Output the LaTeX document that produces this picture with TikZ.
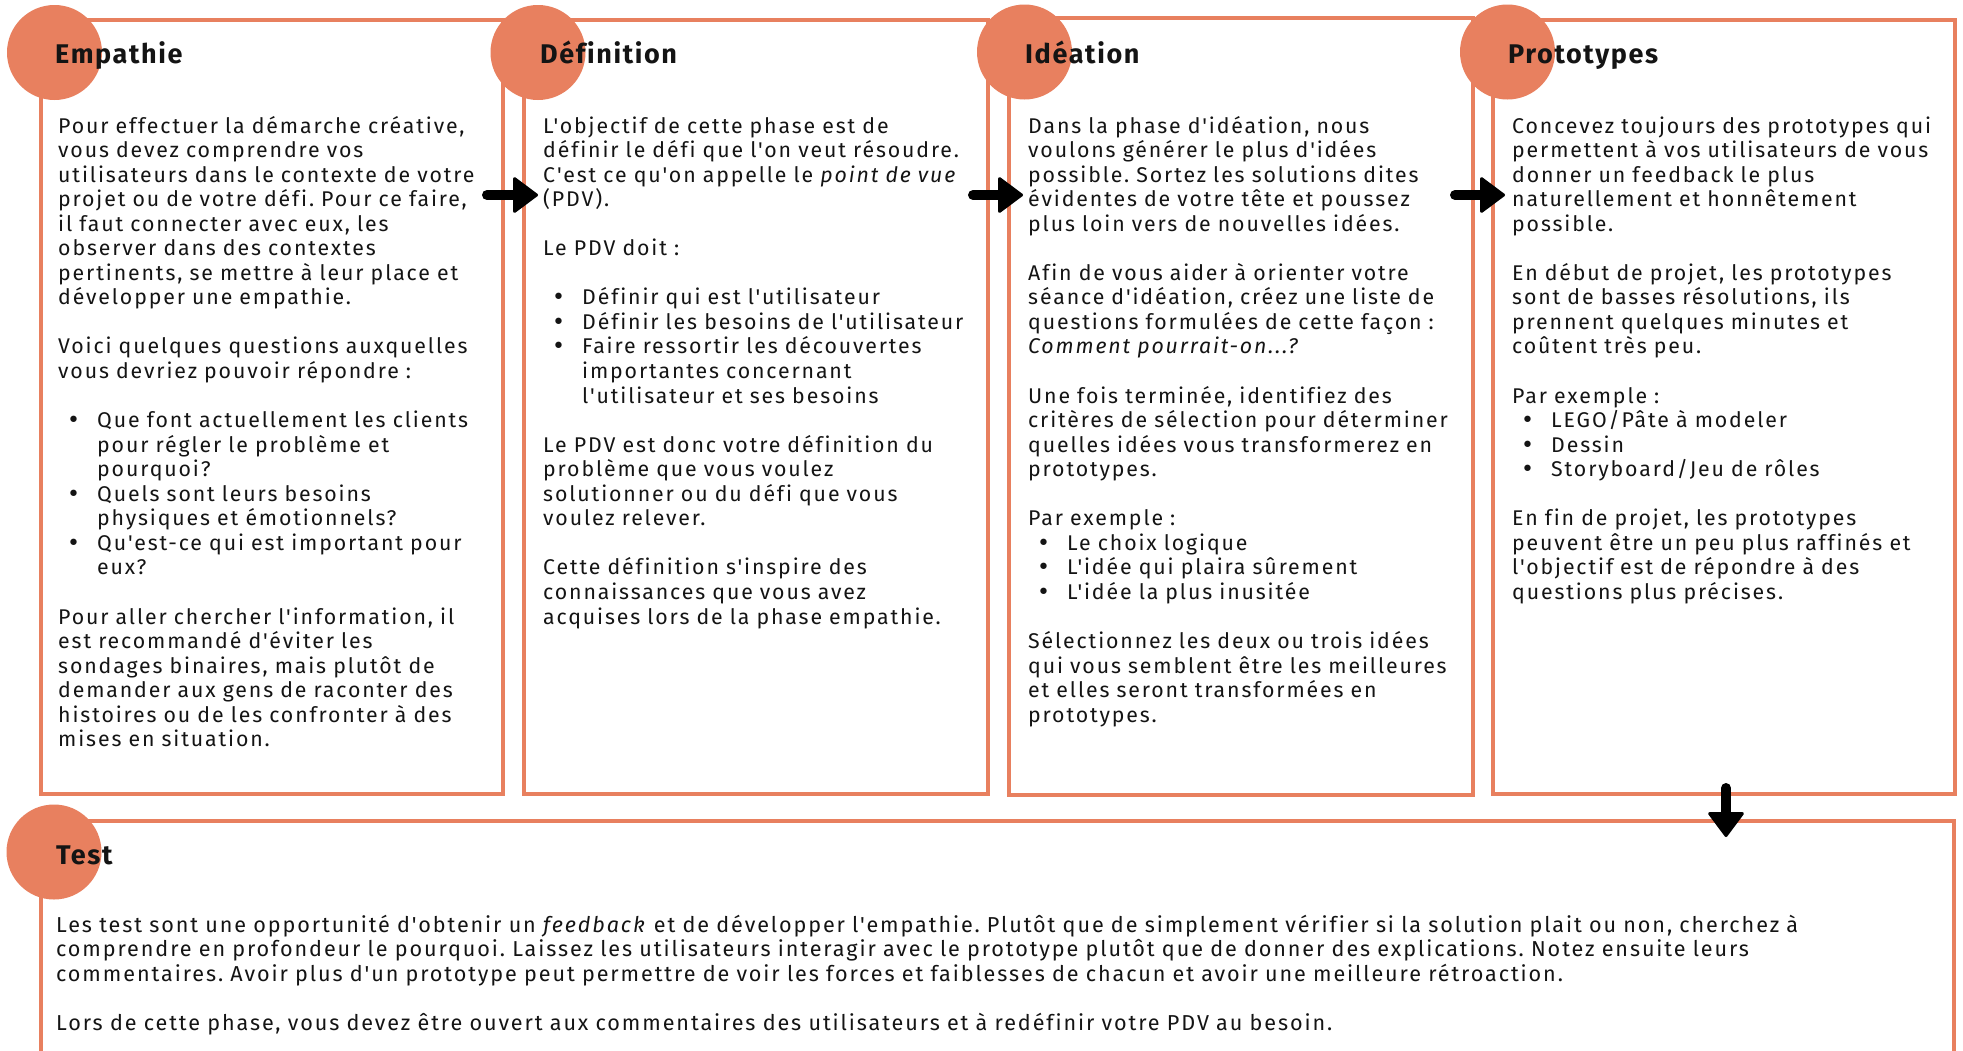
\documentclass[tikz,border=0pt]{standalone}
\usepackage{fontspec}
\setmainfont{Fira Sans}[LetterSpace=8.8,Ligatures={TeXOff,CommonOff}]
\newfontfamily\titlefont{Fira Sans}[LetterSpace=6,Ligatures={TeXOff,CommonOff}]
\newfontfamily\dejavu{DejaVu Sans}
\usetikzlibrary{arrows.meta}
\definecolor{orng}{HTML}{E8805F}
\definecolor{ink}{HTML}{141414}
\newcommand\bul{\makebox[39pt][l]{\hspace*{9pt}{\dejavu\fontsize{22}{0}\selectfont •}}}
\newcommand\ind{\hspace*{39pt}}
\newcommand\bl{24.55pt}
\frenchspacing
\begin{document}
\begin{tikzpicture}[x=1pt,y=-1pt,
  panel/.style={draw=orng,line width=4pt,rectangle,inner sep=0pt},
  circ/.style={circle,fill=orng,draw=none,minimum size=95pt,inner sep=0pt},
  ttl/.style={anchor=base west,inner sep=0pt,text=ink,font=\titlefont\bfseries\fontsize{27}{30}\selectfont},
  body/.style={anchor=base west,inner sep=0pt,text=ink,align=left,text width=#1,font=\frenchspacing\fontsize{21.3}{24.55}\selectfont},
  tbody/.style={anchor=base west,inner sep=0pt,text=ink,align=left,text width=#1,font=\frenchspacing\fontsize{21.6}{24.55}\selectfont},
  arr/.style={draw=black,line width=10pt,line cap=round,-{Triangle[length=26pt,width=38pt,round,line width=3pt]}}]
\useasboundingbox (0,0) rectangle (1963,1050);
\fill[white] (0,0) rectangle (1963,1050);
% panels
\node[panel,minimum width=462pt,minimum height=774pt] (b1) at (272,407) {};
\node[panel,minimum width=464pt,minimum height=774pt] (b2) at (756,407) {};
\node[panel,minimum width=464pt,minimum height=777pt] (b3) at (1241,406.5) {};
\node[panel,minimum width=462pt,minimum height=774pt] (b4) at (1724,407) {};
\node[panel,minimum width=1913pt,minimum height=279pt] (b5) at (997.5,960.5) {};
% circles
\node[circ] (c1) at (54.5,52.5) {};
\node[circ] (c2) at (538,52.5) {};
\node[circ] (c3) at (1024.5,52) {};
\node[circ] (c4) at (1507.5,52) {};
\node[circ] (c5) at (54,852) {};
% titles
\node[ttl] (t1) at (55,63) {Empathie};
\node[ttl] (t2) at (540,63) {Définition};
\node[ttl] (t3) at (1025,63) {Idéation};
\node[ttl] (t4) at (1508,63) {Prototypes};
\node[ttl] (t5) at (56,864) {Test};
% bodies
\node[body=440pt] (p1) at (58,133) {Pour effectuer la démarche créative,\\
vous devez comprendre vos\\
utilisateurs dans le contexte de votre\\
projet ou de votre défi. Pour ce faire,\\
il faut connecter avec eux, les\\
observer dans des contextes\\
pertinents, se mettre à leur place et\\
développer une empathie.\\[\bl]
Voici quelques questions auxquelles\\
vous devriez pouvoir répondre :\\[\bl]
\bul Que font actuellement les clients\\
\ind pour régler le problème et\\
\ind pourquoi?\\
\bul Quels sont leurs besoins\\
\ind physiques et émotionnels?\\
\bul Qu'est-ce qui est important pour\\
\ind eux?\\[\bl]
Pour aller chercher l'information, il\\
est recommandé d'éviter les\\
sondages binaires, mais plutôt de\\
demander aux gens de raconter des\\
histoires ou de les confronter à des\\
mises en situation.};
\node[body=440pt] (p2) at (543,133) {L'objectif de cette phase est de\\
définir le défi que l'on veut résoudre.\\
C'est ce qu'on appelle le \textit{point de vue}\\
(PDV).\\[\bl]
Le PDV doit :\\[\bl]
\bul Définir qui est l'utilisateur\\
\bul Définir les besoins de l'utilisateur\\
\bul Faire ressortir les découvertes\\
\ind importantes concernant\\
\ind l'utilisateur et ses besoins\\[\bl]
Le PDV est donc votre définition du\\
problème que vous voulez\\
solutionner ou du défi que vous\\
voulez relever.\\[\bl]
Cette définition s'inspire des\\
connaissances que vous avez\\
acquises lors de la phase empathie.};
\node[body=440pt] (p3) at (1028,133) {Dans la phase d'idéation, nous\\
voulons générer le plus d'idées\\
possible. Sortez les solutions dites\\
évidentes de votre tête et poussez\\
plus loin vers de nouvelles idées.\\[\bl]
Afin de vous aider à orienter votre\\
séance d'idéation, créez une liste de\\
questions formulées de cette façon :\\
\textit{Comment pourrait-on...?}\\[\bl]
Une fois terminée, identifiez des\\
critères de sélection pour déterminer\\
quelles idées vous transformerez en\\
prototypes.\\[\bl]
Par exemple :\\
\bul Le choix logique\\
\bul L'idée qui plaira sûrement\\
\bul L'idée la plus inusitée\\[\bl]
Sélectionnez les deux ou trois idées\\
qui vous semblent être les meilleures\\
et elles seront transformées en\\
prototypes.};
\node[body=440pt] (p4) at (1512,133) {Concevez toujours des prototypes qui\\
permettent à vos utilisateurs de vous\\
donner un feedback le plus\\
naturellement et honnêtement\\
possible.\\[\bl]
En début de projet, les prototypes\\
sont de basses résolutions, ils\\
prennent quelques minutes et\\
coûtent très peu.\\[\bl]
Par exemple :\\
\bul LEGO/Pâte à modeler\\
\bul Dessin\\
\bul Storyboard/Jeu de rôles\\[\bl]
En fin de projet, les prototypes\\
peuvent être un peu plus raffinés et\\
l'objectif est de répondre à des\\
questions plus précises.};
\node[tbody=1880pt] (p5) at (56,932) {Les test sont une opportunité d'obtenir un \textit{feedback} et de développer l'empathie. Plutôt que de simplement vérifier si la solution plait ou non, cherchez à\\
comprendre en profondeur le pourquoi. Laissez les utilisateurs interagir avec le prototype plutôt que de donner des explications. Notez ensuite leurs\\
commentaires. Avoir plus d'un prototype peut permettre de voir les forces et faiblesses de chacun et avoir une meilleure rétroaction.\\[\bl]
Lors de cette phase, vous devez être ouvert aux commentaires des utilisateurs et à redéfinir votre PDV au besoin.};
% connectors
\coordinate (a1s) at (487,195); \coordinate (a1e) at (538,195);
\coordinate (a2s) at (973,195); \coordinate (a2e) at (1023,195);
\coordinate (a3s) at (1455,195); \coordinate (a3e) at (1505,195);
\coordinate (a4s) at (1726,788); \coordinate (a4e) at (1726,837);
\draw[arr] (a1s) -- (a1e);
\draw[arr] (a2s) -- (a2e);
\draw[arr] (a3s) -- (a3e);
\draw[arr] (a4s) -- (a4e);
\end{tikzpicture}
\end{document}
